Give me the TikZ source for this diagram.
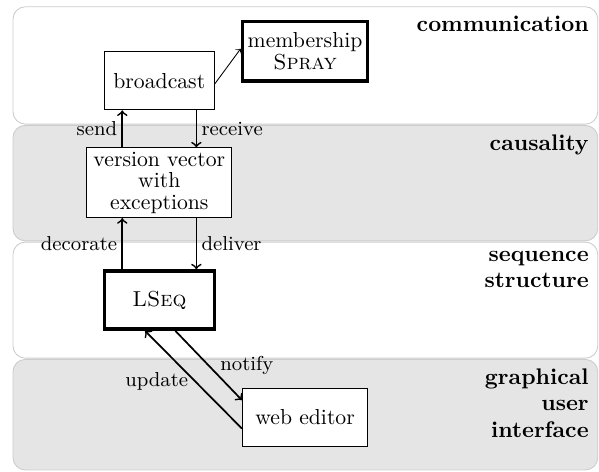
\documentclass[tikz,border=0pt]{standalone}
\usepackage{amsmath}
\usepackage{tikz}

\begin{document}
\begin{tikzpicture}[
        layer/.style={draw=gray!40, rounded corners=0.2cm},
        title/.style={anchor=north east, align=right, font=\fontsize{10.4}{12.2}\selectfont\bfseries, inner sep=4pt},
        box/.style={draw, fill=white, align=center, inner sep=1pt},
        thickbox/.style={box, ultra thick},
        flow/.style={draw, thick, ->},
        lbl/.style={font=\fontsize{9.3}{11}\selectfont, inner sep=2pt}]

    \useasboundingbox (0,0) rectangle (9.70,-7.63);

    % Layers
    \draw[layer, fill=white]   (0.21,-0.11) rectangle (9.68,-2.01);
    \draw[layer, fill=gray!20] (0.21,-2.03) rectangle (9.68,-3.90);
    \draw[layer, fill=white]   (0.21,-3.92) rectangle (9.68,-5.80);
    \draw[layer, fill=gray!20] (0.21,-5.82) rectangle (9.68,-7.61);

    \node[title] (comm) at (9.68,-0.11) {communication};
    \node[title] (caus) at (9.68,-2.03) {causality};
    \node[title] (seqs) at (9.68,-3.92) {sequence\\structure};
    \node[title] (gui)  at (9.68,-5.82) {graphical\\user\\interface};

    % Components
    \node[box, minimum width=1.78cm, minimum height=0.94cm] (broadcast) at (2.58,-1.31) {broadcast};
    \node[thickbox, minimum width=2.03cm, minimum height=0.96cm] (spray) at (4.94,-0.83) {membership\\[-2pt]\textsc{Spray}};
    \node[box, minimum width=2.35cm, minimum height=1.13cm] (vve) at (2.58,-2.96) {version vector\\[-2pt]with\\[-2pt]exceptions};
    \node[thickbox, minimum width=1.78cm, minimum height=0.94cm] (lseq) at (2.58,-4.86) {\textsc{LSeq}};
    \node[box, minimum width=2.03cm, minimum height=0.94cm] (editor) at (4.94,-6.76) {web editor};

    % Connectors
    \draw[->] ([yshift=-0.05cm]broadcast.east) -- ([yshift=0.04cm]spray.west);
    \draw[flow] ([xshift=-0.6cm]vve.north) -- ([xshift=-0.6cm]broadcast.south)
        node[lbl, midway, left] {send};
    \draw[flow] ([xshift=0.6cm]broadcast.south) -- ([xshift=0.6cm]vve.north)
        node[lbl, midway, right] {receive};
    \draw[flow] ([xshift=-0.6cm]lseq.north) -- ([xshift=-0.6cm]vve.south)
        node[lbl, midway, left] {decorate};
    \draw[flow] ([xshift=0.6cm]vve.south) -- ([xshift=0.6cm]lseq.north)
        node[lbl, midway, right] {deliver};
    \draw[flow] ([xshift=0.26cm]lseq.south) -- ([yshift=0.28cm]editor.west)
        node[lbl, pos=0.5, right, xshift=3pt] {notify};
    \draw[flow] ([yshift=-0.18cm]editor.west) -- ([xshift=-0.23cm]lseq.south)
        node[lbl, pos=0.48, left, xshift=-1pt] {update};
\end{tikzpicture}
\end{document}
